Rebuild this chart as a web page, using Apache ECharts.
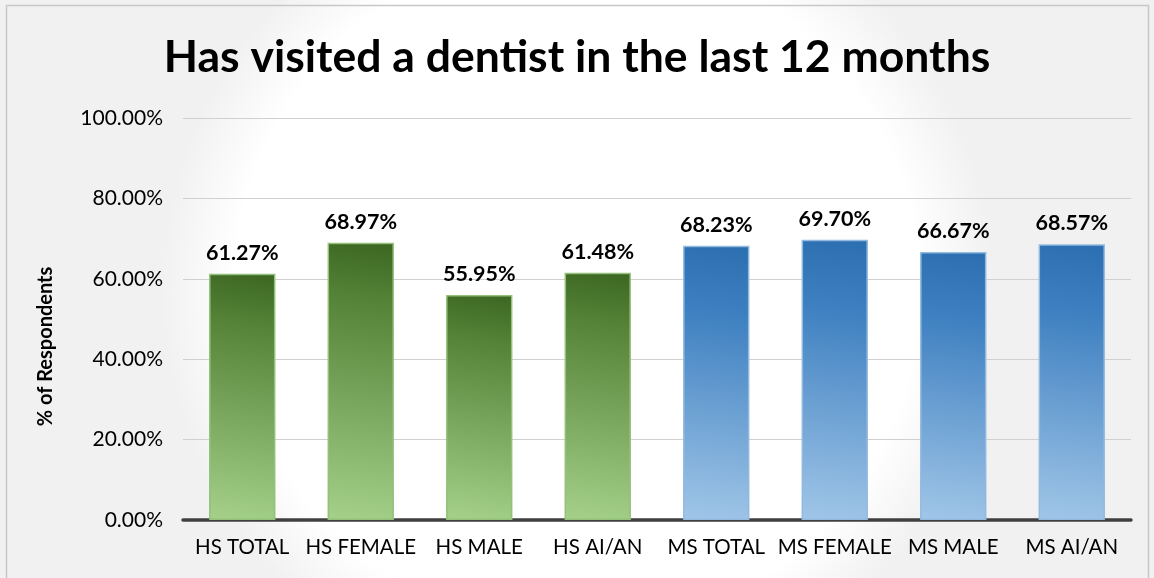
<!DOCTYPE html>
<html>
<head>
<meta charset="utf-8">
<script src="https://cdn.jsdelivr.net/npm/echarts@6/dist/echarts.min.js"></script>
<style>
  html, body { margin: 0; padding: 0; background: #fff; }
  #main { width: 1154px; height: 578px; }
</style>
</head>
<body>
<div id="main"></div>
<script>
var categories = ['HS TOTAL', 'HS FEMALE', 'HS MALE', 'HS AI/AN', 'MS TOTAL', 'MS FEMALE', 'MS MALE', 'MS AI/AN'];
var values = [61.27, 68.97, 55.95, 61.48, 68.23, 69.70, 66.67, 68.57];
var groups = ['hs', 'hs', 'hs', 'hs', 'ms', 'ms', 'ms', 'ms'];

var fills = {
    hs: new echarts.graphic.LinearGradient(1, 0, 0.45, 1, [
        {offset: 0, color: '#3b6622'},
        {offset: 0.2, color: '#538135'},
        {offset: 1, color: '#a3cf88'}
    ]),
    ms: new echarts.graphic.LinearGradient(1, 0, 0.45, 1, [
        {offset: 0, color: '#2c6fb0'},
        {offset: 0.25, color: '#3d7fc0'},
        {offset: 1, color: '#9fc5e7'}
    ])
};
var borders = {hs: '#93c07a', ms: '#93b9e0'};

var myChart = echarts.init(document.getElementById('main'));
var font = 'Lato, "Open Sans", sans-serif';

var option = {
    backgroundColor: new echarts.graphic.RadialGradient(0.5, 0.5, 0.72, [
        {offset: 0, color: '#ffffff'},
        {offset: 0.82, color: '#ffffff'},
        {offset: 1, color: '#f1f1f1'}
    ]),
    textStyle: {fontFamily: font},
    graphic: [{
        type: 'rect',
        shape: {x: 6.5, y: 5.5, width: 1142, height: 600},
        style: {fill: null, stroke: '#c8c8c8', lineWidth: 1.5},
        silent: true
    }],
    title: {
        text: 'Has visited a dentist in the last 12 months',
        left: 'center',
        top: 30,
        textStyle: {fontSize: 44.5, fontWeight: 'bold', color: '#000', fontFamily: font}
    },
    grid: {left: 183, right: 23, top: 118, bottom: 58},
    xAxis: {
        type: 'category',
        data: categories,
        axisLine: {lineStyle: {color: '#404040', width: 3.5}},
        axisTick: {show: false},
        axisLabel: {interval: 0, fontSize: 20.5, color: '#000', margin: 17, fontFamily: font}
    },
    yAxis: {
        type: 'value',
        min: 0,
        max: 100,
        interval: 20,
        name: '% of Respondents',
        nameLocation: 'middle',
        nameGap: 127,
        nameTextStyle: {fontSize: 20, fontWeight: 'bold', color: '#000', fontFamily: font, padding: [0, 0, 0, -55]},
        axisLine: {show: false},
        axisTick: {show: false},
        axisLabel: {
            fontSize: 21, color: '#000', margin: 20, fontFamily: font,
            formatter: function(v) { return v.toFixed(2) + '%'; }
        },
        splitLine: {lineStyle: {color: '#d0d0d0', width: 1.2}}
    },
    series: [{
        type: 'bar',
        barWidth: '56%',
        data: values.map(function(v, i) {
            return {
                value: v,
                itemStyle: {color: fills[groups[i]], borderColor: borders[groups[i]], borderWidth: 1.5}
            };
        }),
        label: {
            show: true,
            position: 'top',
            distance: 10,
            fontSize: 21.5,
            fontWeight: 'bold',
            color: '#000',
            fontFamily: font,
            formatter: function(p) { return p.value.toFixed(2) + '%'; }
        }
    }]
};
myChart.setOption(option);
</script>
</body>
</html>
